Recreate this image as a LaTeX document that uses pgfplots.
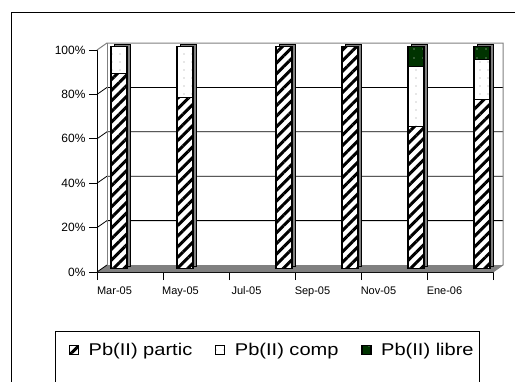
\documentclass[border=0pt]{standalone}
\usepackage{fontspec}
\setmainfont{Liberation Sans}
\usepackage{graphicx}
\usepackage{pgfplots}
\pgfplotsset{compat=1.18}
\usepackage{pgfplotstable}
\usetikzlibrary{patterns.meta}

\definecolor{libregreen}{RGB}{0,51,0}
\definecolor{wallgray}{RGB}{128,128,128}

% Fraction of Pb(II) in each form (%), x = months counted from Mar-05
\pgfplotstableread{
x  partic comp libre total
0  88     12   0     100
2  77     23   0     100
5  100    0    0     100
7  100    0    0     100
9  64     27   9     100
11 76     18   6     100
}\pbdata

\pgfplotsset{
  plane/.style={scale only axis, width=396bp, height=222bp,
    xmin=-0.53, xmax=11.47, ymin=0, ymax=100,
    anchor=south west, clip=false},
}

\begin{document}
\begin{tikzpicture}
\useasboundingbox (0,0) rectangle (515bp,-382bp);
% chart area frame
\draw[black, line width=0.8bp] (11bp,-420bp) -- (11bp,-12bp) -- (540bp,-12bp);

% walls, floor, grid and axes
\begin{axis}[plane, at={(97bp,-272bp)},
  axis x line*=bottom, axis y line*=left,
  axis line style={line width=0.8bp, black},
  ytick={0,20,...,100}, yticklabels={0\%,20\%,40\%,60\%,80\%,100\%},
  xtick={-0.53,1.47,3.47,5.47,7.47,9.47,11.47}, xticklabels={},
  extra x ticks={0,2,4,6,8,10},
  extra x tick labels={Mar-05,May-05,Jul-05,Sep-05,Nov-05,Ene-06},
  extra x tick style={major tick length=0pt, xticklabel style={yshift=-11bp}},
  tick align=outside, major tick length=8bp,
  tick style={black, line width=0.8bp},
  yticklabel style={font=\fontsize{12bp}{14bp}\selectfont},
  xticklabel style={font=\fontsize{11bp}{13bp}\selectfont},
]
\fill[wallgray] (axis cs:-0.53,0) -- ([shift={(10bp,7bp)}]axis cs:-0.53,0)
  -- ([shift={(10bp,7bp)}]axis cs:11.47,0) -- (axis cs:11.47,0) -- cycle;
\pgfplotsinvokeforeach{20,40,60,80}{
  \draw[black, line width=0.8bp] (axis cs:-0.53,#1) -- ([shift={(10bp,7bp)}]axis cs:-0.53,#1)
    -- ([shift={(10bp,7bp)}]axis cs:11.47,#1);
}
\draw[wallgray, line width=1bp] (axis cs:-0.53,100) -- ([shift={(10bp,7bp)}]axis cs:-0.53,100)
  -- ([shift={(10bp,7bp)}]axis cs:11.47,100) -- ([shift={(10bp,7bp)}]axis cs:11.47,0)
  -- (axis cs:11.47,0);
\draw[wallgray, line width=0.6bp] ([shift={(10bp,7bp)}]axis cs:-0.53,0)
  -- ([shift={(10bp,7bp)}]axis cs:-0.53,100);
\draw[black, line width=0.8bp] (axis cs:-0.53,0) -- ([shift={(10bp,7bp)}]axis cs:-0.53,0);
\end{axis}

% back faces of the columns
\begin{axis}[plane, at={(105bp,-266bp)}, hide axis, ybar, bar width=16bp]
\addplot[fill=wallgray, draw=black, line width=1bp] table[x=x, y=total] {\pbdata};
\end{axis}

% front faces of the columns
\begin{axis}[plane, at={(101.5bp,-268.5bp)}, hide axis, ybar stacked, bar width=16bp,
  legend columns=3,
  legend style={at={(axis description cs:-0.09,-0.367)}, anchor=west,
    draw=none, fill=none, font=\fontsize{17bp}{20bp}\selectfont,
    /tikz/every odd column/.append style={column sep=8bp},
    /tikz/every even column/.append style={column sep=21bp}},
  legend image code/.code={\draw[#1, line width=0.6bp] (0bp,-4.5bp) rectangle (9bp,4.5bp);},
]
\addplot[draw=black, line width=1.2bp, preaction={fill=white},
  pattern={Lines[angle=45,distance=7.5bp,line width=3bp]}, pattern color=black]
  table[x=x, y=partic] {\pbdata};
\addplot[draw=black, line width=1.2bp, preaction={fill=white},
  pattern={Dots[distance=8bp,radius=0.7bp]}, pattern color=gray!80]
  table[x=x, y=comp] {\pbdata};
\addplot[draw=black, line width=1.2bp, preaction={fill=libregreen},
  pattern={Dots[distance=9bp,radius=0.7bp]}, pattern color=white!70!gray]
  table[x=x, y=libre] {\pbdata};
\legend{\scalebox{1.18}[1]{Pb(II) partic}, \scalebox{1.18}[1]{Pb(II) comp}, \scalebox{1.18}[1]{Pb(II) libre}}
\end{axis}

% legend frame
\draw[black, line width=0.8bp] (55bp,-420bp) -- (55bp,-331bp) -- (479bp,-331bp) -- (479bp,-420bp);
\end{tikzpicture}
\end{document}
